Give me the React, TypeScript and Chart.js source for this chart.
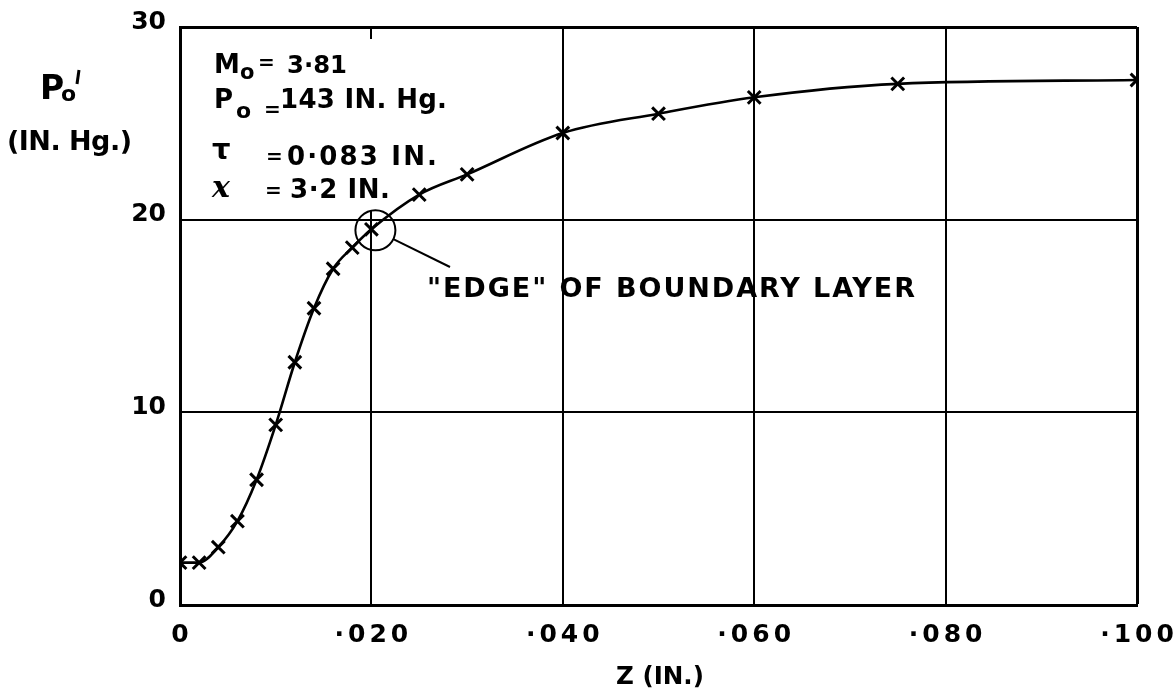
import React, { useEffect, useRef } from 'react';
import { Chart, registerables } from 'chart.js';

Chart.register(...registerables);

// ---- data ----
const zValues = [0, 0.002, 0.004, 0.006, 0.008, 0.010, 0.012, 0.014, 0.016, 0.018, 0.020, 0.025, 0.030, 0.040, 0.050, 0.060, 0.075, 0.100];
const pValues = [2.2, 2.2, 3.0, 4.35, 6.5, 9.35, 12.6, 15.4, 17.45, 18.55, 19.5, 21.3, 22.35, 24.5, 25.5, 26.35, 27.05, 27.25];

const xTickValues = [0, 0.02, 0.04, 0.06, 0.08, 0.1];
const xTickLabels = ['0', '·020', '·040', '·060', '·080', '·100'];
const yTickValues = [0, 10, 20, 30];
const yTickLabels = ['0', '10', '20', '30'];

const edgeZ = 0.020;
const edgeP = 19.5;
const edgeLabel = '"EDGE" OF BOUNDARY LAYER';

const FONT = '"DejaVu Sans"';

function spaced(ctx: CanvasRenderingContext2D, text: string, x: number, y: number, width: number, size: number, weight = 'bold') {
  const c: any = ctx;
  c.letterSpacing = '0px';
  ctx.font = `${weight} ${size}px ${FONT}`;
  const w = ctx.measureText(text).width;
  const n = Array.from(text).length;
  let ls = n > 1 ? (width - w) / (n - 1) : 0;
  if (ls < -1) {
    ctx.font = `${weight} ${size * width / w}px ${FONT}`;
    ls = 0;
  }
  c.letterSpacing = `${ls}px`;
  ctx.textAlign = 'left';
  ctx.fillText(text, x, y);
  c.letterSpacing = '0px';
}

function edgeCircle(chart: any) {
  const xs = chart.scales.x;
  const ys = chart.scales.y;
  return { cx: xs.getPixelForValue(edgeZ) + 4, cy: ys.getPixelForValue(edgeP) + 1, r: 20 };
}

const annotPlugin = {
  id: 'annot',
  beforeDatasetsDraw(chart: any) {
    // the hand-drawn grid line at .020 stops short of the parameter block
    const ctx: CanvasRenderingContext2D = chart.ctx;
    const xs = chart.scales.x;
    const { cy, r } = edgeCircle(chart);
    const gx = xs.getPixelForValue(edgeZ);
    ctx.save();
    ctx.fillStyle = '#fff';
    ctx.fillRect(gx - 3, chart.chartArea.top + 12, 6, cy - r - chart.chartArea.top - 12);
    ctx.restore();
  },
  afterDraw(chart: any) {
    const ctx: CanvasRenderingContext2D = chart.ctx;
    const c: any = ctx;
    const xs = chart.scales.x;
    const ys = chart.scales.y;
    ctx.save();
    ctx.fillStyle = '#000';
    ctx.strokeStyle = '#000';

    // tick labels
    ctx.font = `bold 25px ${FONT}`;
    ctx.textAlign = 'right';
    ctx.textBaseline = 'middle';
    yTickValues.forEach((v, i) => {
      ctx.fillText(yTickLabels[i], 166, ys.getPixelForValue(v) - 5);
    });
    ctx.textAlign = 'center';
    c.letterSpacing = '4px';
    xTickValues.forEach((v, i) => {
      ctx.fillText(xTickLabels[i], xs.getPixelForValue(v) + 2, 635);
    });
    c.letterSpacing = '0px';
    ctx.textBaseline = 'alphabetic';

    // y axis title
    ctx.textAlign = 'left';
    ctx.font = `bold 33px ${FONT}`;
    ctx.fillText('P', 40, 99);
    ctx.lineWidth = 3;
    ctx.beginPath();
    ctx.moveTo(79, 70);
    ctx.lineTo(77, 84);
    ctx.stroke();
    ctx.font = `bold 22px ${FONT}`;
    ctx.fillText('o', 61, 101);
    spaced(ctx, '(IN. Hg.)', 7, 150, 125, 27);
    // x axis title
    spaced(ctx, 'Z (IN.)', 616, 684, 88, 28);

    // parameter block
    ctx.font = `bold 26px ${FONT}`;
    ctx.fillText('M', 214, 73);
    ctx.font = `bold 21px ${FONT}`;
    ctx.fillText('o', 240, 79);
    ctx.font = `bold 20px ${FONT}`;
    ctx.fillText('=', 258, 69);
    spaced(ctx, '3·81', 287, 73, 60, 26);

    ctx.font = `bold 26px ${FONT}`;
    ctx.fillText('P', 214, 108);
    ctx.font = `bold 22px ${FONT}`;
    ctx.fillText('o', 236, 118);
    ctx.font = `bold 20px ${FONT}`;
    ctx.fillText('=', 264, 116);
    spaced(ctx, '143 IN. Hg.', 280, 108, 167, 26);

    ctx.font = `bold 29px ${FONT}`;
    ctx.fillText('τ', 212, 159);
    ctx.font = `bold 20px ${FONT}`;
    ctx.fillText('=', 266, 163);
    spaced(ctx, '0·083 IN.', 287, 165, 150, 26);

    ctx.font = `italic bold 30px "DejaVu Serif"`;
    ctx.fillText('x', 212, 197);
    ctx.font = `bold 20px ${FONT}`;
    ctx.fillText('=', 265, 197);
    spaced(ctx, '3·2 IN.', 290, 198, 100, 26);

    // edge annotation
    const { cx, cy, r } = edgeCircle(chart);
    ctx.lineWidth = 2;
    ctx.beginPath();
    ctx.arc(cx, cy, r, 0, Math.PI * 2);
    ctx.stroke();
    const ex = 450, ey = 267;
    const ang = Math.atan2(ey - cy, ex - cx);
    ctx.beginPath();
    ctx.moveTo(cx + r * Math.cos(ang), cy + r * Math.sin(ang));
    ctx.lineTo(ex, ey);
    ctx.stroke();
    spaced(ctx, edgeLabel, 427, 297, 488, 27);

    ctx.restore();
  },
};

export default function App() {
  const ref = useRef<HTMLCanvasElement>(null);
  useEffect(() => {
    document.body.style.margin = '0';
    const canvas = ref.current!;
    const gridWidth = (c: any, n: number) => (c.index === n - 1 ? 3 : 2);
    const chart = new Chart(canvas, {
      type: 'scatter',
      data: {
        datasets: [
          {
            data: zValues.map((z, i) => ({ x: z, y: pValues[i] })),
            showLine: true,
            borderColor: '#000',
            backgroundColor: '#000',
            borderWidth: 2.6,
            cubicInterpolationMode: 'monotone',
            pointStyle: 'crossRot',
            pointRadius: 9,
            pointBorderWidth: 3,
            pointBorderColor: '#000',
          },
        ],
      },
      options: {
        animation: false,
        responsive: false,
        devicePixelRatio: 1,
        layout: { padding: { top: 27, right: 38, left: 0, bottom: 0 } },
        plugins: { legend: { display: false }, tooltip: { enabled: false } },
        scales: {
          x: {
            type: 'linear',
            min: 0,
            max: 0.1,
            afterBuildTicks: (s: any) => { s.ticks = xTickValues.map((v) => ({ value: v })); },
            afterFit: (s: any) => { s.height = 89; },
            ticks: { display: false },
            grid: { color: '#000', lineWidth: (c: any) => gridWidth(c, xTickValues.length), drawTicks: false },
            border: { display: true, color: '#000', width: 3 },
          },
          y: {
            type: 'linear',
            min: 0,
            max: 30,
            afterBuildTicks: (s: any) => { s.ticks = yTickValues.map((v) => ({ value: v })); },
            afterFit: (s: any) => { s.width = 180; },
            ticks: { display: false },
            grid: { color: '#000', lineWidth: (c: any) => gridWidth(c, yTickValues.length), drawTicks: false },
            border: { display: true, color: '#000', width: 3 },
          },
        },
      },
      plugins: [annotPlugin],
    } as any);
    return () => chart.destroy();
  }, []);
  return <canvas ref={ref} width={1175} height={694} style={{ display: 'block' }} />;
}
